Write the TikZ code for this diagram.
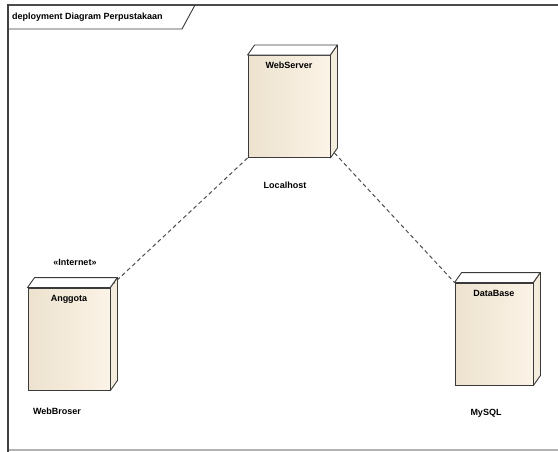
\documentclass[tikz,border=0pt]{standalone}
\usepackage{fontspec}
\setmainfont{Liberation Sans}
\usetikzlibrary{backgrounds}
\definecolor{facel}{HTML}{EDE2CF}
\definecolor{facer}{HTML}{FBF3E6}
\definecolor{sidec}{HTML}{F4ECDD}
\definecolor{edgec}{HTML}{3A3A3A}
\tikzset{
  x=1pt, y=-1pt,
  devbox/.style={draw=edgec, line width=0.9pt, left color=facel, right color=facer,
    shading angle=90, minimum width=#1, text width=#1-4pt, align=center,
    inner xsep=2pt, inner ysep=2pt, text height=11pt, text depth=87pt,
    font=\fontsize{9}{10}\selectfont\bfseries},
  topface/.style={draw=edgec, line width=0.9pt, fill=white, line join=round},
  sideface/.style={draw=edgec, line width=0.9pt, fill=sidec, line join=round},
  shadowf/.style={fill=black, opacity=0.18},
  lbl/.style={font=\fontsize{9}{10}\selectfont\bfseries, inner sep=1pt},
  conn/.style={draw=edgec!90, line width=1pt, dash pattern=on 4pt off 3pt},
}
\newcommand\devfaces[1]{%
  \begin{scope}[on background layer]
    \fill[shadowf] ([shift={(3,3)}]#1.north east) -- ([shift={(10,-7)}]#1.north east)
      -- ([shift={(10,-7)}]#1.south east) -- ([shift={(3,3)}]#1.south east)
      -- ([shift={(3,3)}]#1.south west) -- cycle;
  \end{scope}
  \draw[topface] (#1.north west) -- ([shift={(7,-10)}]#1.north west)
    -- ([shift={(7,-10)}]#1.north east) -- (#1.north east) -- cycle;
  \draw[sideface] (#1.north east) -- ([shift={(7,-10)}]#1.north east)
    -- ([shift={(7,-10)}]#1.south east) -- (#1.south east) -- cycle;
}
\begin{document}
\begin{tikzpicture}
\useasboundingbox (0,0) rectangle (558,452);
\fill[white] (0,0) rectangle (558,452);
% frame
\draw[line width=1.5pt, draw=gray!60] (8,450) -- (558,450);
\draw[line width=2pt, draw=black!70] (8,5) -- (558,5);
\draw[line width=2pt, draw=black!75] (8,4) -- (8,452);
\coordinate (tabA) at (8,29);
\coordinate (tabB) at (182,29);
\coordinate (tabC) at (195,5);
\draw[line width=0.9pt, draw=edgec] (tabA) -- (tabB) -- (tabC);
\node[lbl, anchor=west] (title) at (11,17) {deployment Diagram Perpustakaan};

% devices
\node[devbox=82pt] (ws) at (289,106.5) {WebServer};
\devfaces{ws}
\node[devbox=82pt] (ang) at (69,339) {Anggota};
\devfaces{ang}
\node[devbox=78pt] (db) at (494,334) {DataBase};
\devfaces{db}

% labels
\node[lbl] (lh) at (285,185) {Localhost};
\node[lbl] (inet) at (75,262) {«Internet»};
\node[lbl] (wb) at (57,411) {WebBroser};
\node[lbl] (my) at (486,413) {MySQL};

% connectors
\draw[conn] (ws.south west) -- ([shift={(3,-4)}]ang.north east);
\draw[conn] ([shift={(4,-5)}]ws.south east) -- (db.north west);
\end{tikzpicture}
\end{document}
